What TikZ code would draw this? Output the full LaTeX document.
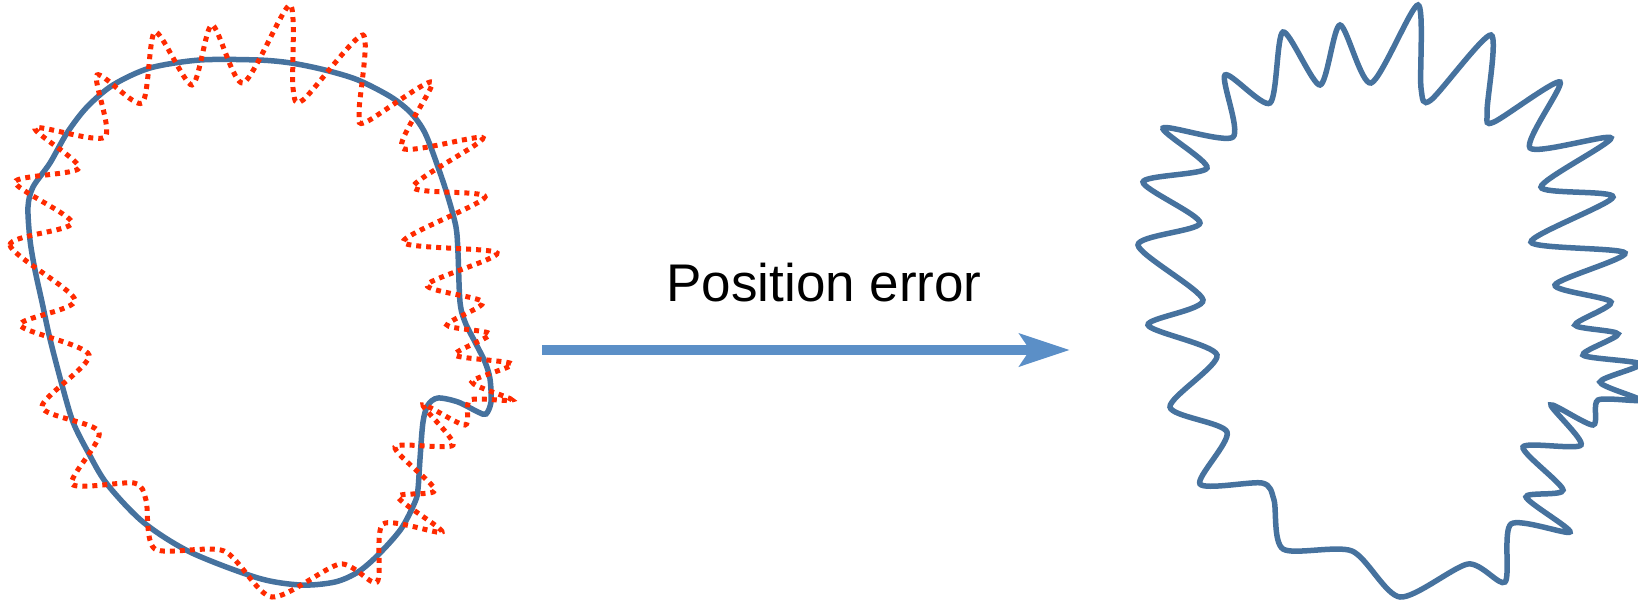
\documentclass[tikz,border=0pt]{standalone}
\usepackage{fontspec}
\setmainfont{Liberation Sans}
\usetikzlibrary{arrows.meta}
\definecolor{curveblue}{RGB}{70,114,158}
\definecolor{arrowblue}{RGB}{91,143,199}
\definecolor{errred}{RGB}{255,42,0}
\newcommand{\wavepath}[1]{%
\draw[#1] plot[smooth cycle, tension=0.45] coordinates {
(1203,300) (1138,245) (1200,223) (1143,182) (1207,168) (1163,128)
(1233,137) (1225,75) (1270,103) (1283,32) (1320,85) (1340,25)
(1371,83) (1418,5) (1421,88) (1431,100) (1491,35) (1487,112) (1494,122)
(1560,82) (1530,148) (1611,138) (1541,187) (1613,197) (1531,242)
(1625,253) (1555,285) (1611,302) (1575,325) (1618,334) (1583,355)
(1640,364) (1600,382) (1640,400) (1598,400) (1593,425) (1551,405)
(1581,445) (1523,447) (1563,490) (1526,497) (1570,532) (1511,524)
(1505,582) (1468,564) (1400,597) (1352,551) (1283,549) (1274,500)
(1262,483) (1200,484) (1227,432) (1170,407) (1217,355) (1148,325)
};}
\tikzset{
  bluecurve/.style={draw=curveblue, line width=5.5pt},
  reddots/.style={draw=errred, line width=5pt, dash pattern=on 5pt off 5pt},
  bigarrow/.style={draw=arrowblue, line width=10pt, -{Stealth[length=50pt,width=32pt,inset=10pt]}},
  label/.style={font=\fontsize{53pt}{60pt}\selectfont, text=black, inner sep=0pt, anchor=base}
}
\begin{document}
\begin{tikzpicture}[x=1pt,y=-1pt]
\useasboundingbox (0,0) rectangle (1638,605);
% left: target curve
\draw[bluecurve] plot[smooth cycle] coordinates {
(258,60) (291,63) (325,70) (358,80) (391,97) (411,113) (425,133)
(438,167) (448,197) (456,227) (458,253) (460,302) (465,322) (475,342)
(485,362) (490,379) (491,402) (486,414) (478,412) (458,402) (438,398)
(428,405) (423,422) (420,459) (418,489) (415,502) (401,529) (378,555)
(358,572) (335,582) (301,585) (258,578) (190,552) (143,522) (107,484)
(88,452) (73,422) (62,385) (50,339) (42,302) (35,270) (30,240) (28,207)
(33,187) (50,163) (67,133) (87,107) (113,85) (150,68) (200,60)
};
% left: measured (dotted) curve
\begin{scope}[xshift=-1128pt]
\wavepath{reddots}
\end{scope}
% right: error curve
\wavepath{bluecurve}
% arrow
\coordinate (arrowstart) at (542,350);
\coordinate (arrowend) at (1070,350);
\draw[bigarrow] (arrowstart) -- (arrowend);
\node[label] (lbl) at (824,301) {Position error};
\end{tikzpicture}
\end{document}
